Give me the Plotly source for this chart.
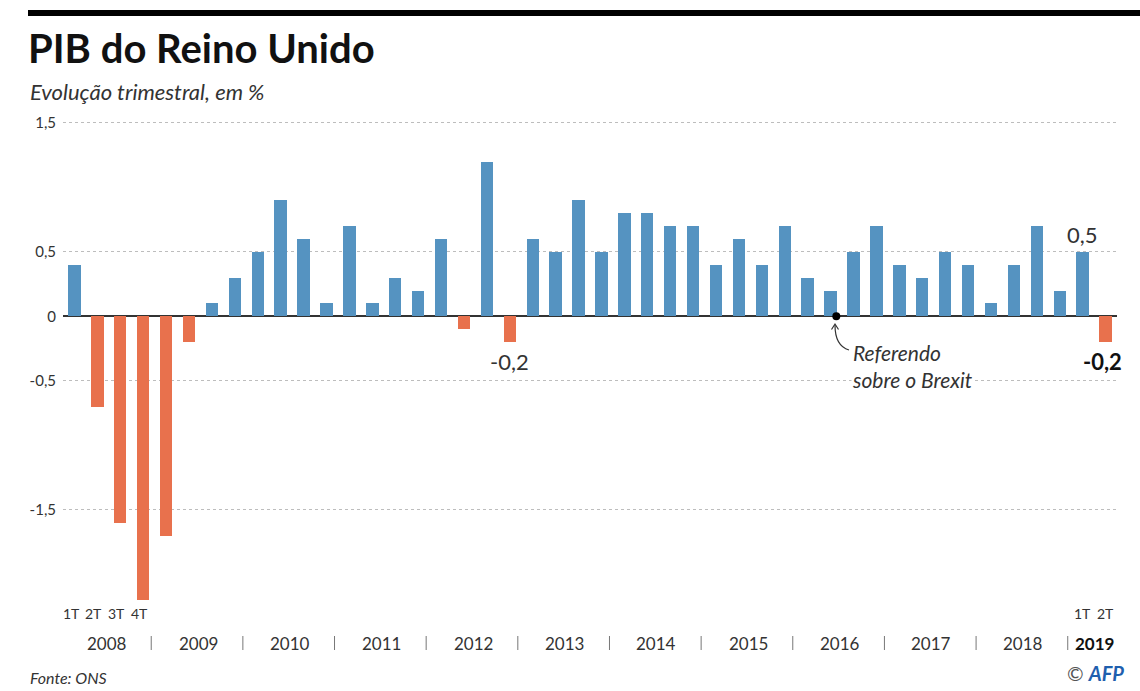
import plotly.graph_objects as go

# ---- data ----
years = ["2008", "2009", "2010", "2011", "2012", "2013", "2014", "2015",
         "2016", "2017", "2018", "2019"]
quarters_per_year = [4, 4, 4, 4, 4, 4, 4, 4, 4, 4, 4, 2]
gdp_growth = [
    0.4, -0.7, -1.6, -2.2,   # 2008
    -1.7, -0.2, 0.1, 0.3,    # 2009
    0.5, 0.9, 0.6, 0.1,      # 2010
    0.7, 0.1, 0.3, 0.2,      # 2011
    0.6, -0.1, 1.2, -0.2,    # 2012
    0.6, 0.5, 0.9, 0.5,      # 2013
    0.8, 0.8, 0.7, 0.7,      # 2014
    0.4, 0.6, 0.4, 0.7,      # 2015
    0.3, 0.2, 0.5, 0.7,      # 2016
    0.4, 0.3, 0.5, 0.4,      # 2017
    0.1, 0.4, 0.7, 0.2,      # 2018
    0.5, -0.2,               # 2019
]
ytick_vals = [1.5, 0.5, 0, -0.5, -1.5]
ytick_text = ["1,5", "0,5", "0", "-0,5", "-1,5"]
quarter_labels_first = ["1T", "2T", "3T", "4T"]
quarter_labels_last = ["1T", "2T"]
brexit_quarter = 33.25  # referendum, late Q2 2016 (index)

# ---- styles ----
BLUE = "#5593c1"
ORANGE = "#e8714d"
TXT = "#333333"
FONT = "Lato"

W, H = 1140, 691
L, R, T, B = 63, 1117, 110, 613


def px(x):
    return (x - L) / (R - L)


def py(y):
    return (B - y) / (B - T)


n = len(gdp_growth)
xs = list(range(n))
colors = [BLUE if v >= 0 else ORANGE for v in gdp_growth]

fig = go.Figure()
fig.add_trace(go.Bar(x=xs, y=gdp_growth, marker=dict(color=colors, line=dict(width=0)),
                     width=0.54, hoverinfo="skip"))
fig.add_trace(go.Scatter(x=[brexit_quarter], y=[0], mode="markers",
                         marker=dict(color="black", size=8), hoverinfo="skip"))

ann = []
# title & subtitle
ann.append(dict(text="<b>PIB do Reino Unido</b>", x=px(26), y=py(48), xref="paper", yref="paper",
                xanchor="left", yanchor="middle", showarrow=False,
                font=dict(family=FONT, size=40, color="#111111")))
ann.append(dict(text="<i>Evolução trimestral, em %</i>", x=px(28), y=py(91), xref="paper", yref="paper",
                xanchor="left", yanchor="middle", showarrow=False,
                font=dict(family=FONT, size=22, color=TXT)))

# value labels
ann.append(dict(text="-0,2", x=19, y=py(361), xref="x", yref="paper", showarrow=False,
                xanchor="center", yanchor="middle", font=dict(family=FONT, size=22, color=TXT)))
ann.append(dict(text="0,5", x=n - 2, y=py(234), xref="x", yref="paper", showarrow=False,
                xanchor="center", yanchor="middle", font=dict(family=FONT, size=22, color=TXT)))
ann.append(dict(text="<b>-0,2</b>", x=n - 1 - 0.15, y=py(361), xref="x", yref="paper", showarrow=False,
                xanchor="center", yanchor="middle", font=dict(family=FONT, size=22, color="#111111")))

# Brexit label
ann.append(dict(text="<i>Referendo<br>sobre o Brexit</i>", x=px(851), y=py(366), xref="paper", yref="paper",
                xanchor="left", yanchor="middle", showarrow=False, align="left", bgcolor="white",
                borderpad=0, font=dict(family=FONT, size=21, color=TXT)))

# quarter labels
for i, q in enumerate(quarter_labels_first):
    ann.append(dict(text=q, x=i - 0.15, y=py(613), xref="x", yref="paper", showarrow=False,
                    xanchor="center", yanchor="middle", font=dict(family=FONT, size=14, color=TXT)))
for i, q in enumerate(quarter_labels_last):
    ann.append(dict(text=q, x=n - len(quarter_labels_last) + i, y=py(613), xref="x", yref="paper",
                    showarrow=False, xanchor="center", yanchor="middle",
                    font=dict(family=FONT, size=14, color=TXT)))

# year labels & separators
shapes = []
start = 0
for yr, nq in zip(years, quarters_per_year):
    centre = start + (nq - 1) / 2
    label = f"<b>{yr}</b>" if yr == years[-1] else yr
    ann.append(dict(text=label, x=centre - (0.1 if nq == 4 else 0), y=py(643), xref="x", yref="paper",
                    showarrow=False, xanchor="center", yanchor="middle",
                    font=dict(family=FONT, size=17, color="#111111" if yr == years[-1] else TXT)))
    shapes.append(dict(type="line", xref="x", yref="paper", x0=start - 0.65, x1=start - 0.65,
                       y0=py(636), y1=py(650), line=dict(color="#777777", width=1)))
    start += nq

# footer
ann.append(dict(text="<i>Fonte: ONS</i>", x=px(28), y=py(677), xref="paper", yref="paper",
                xanchor="left", yanchor="middle", showarrow=False,
                font=dict(family=FONT, size=16, color=TXT)))
ann.append(dict(text="© <b><i><span style='color:#1f5fae'>AFP</span></i></b>", x=px(1126), y=py(673),
                xref="paper", yref="paper", xanchor="right", yanchor="middle", showarrow=False,
                font=dict(family=FONT, size=20, color="#555555")))

# top black rule
shapes.append(dict(type="rect", xref="paper", yref="paper", x0=px(28), x1=px(1140),
                   y0=py(16), y1=py(10), fillcolor="black", line=dict(width=0)))
# Brexit arrow (curved)
shapes.append(dict(type="path", xref="paper", yref="paper",
                   path=f"M {px(849)},{py(350)} Q {px(835)},{py(346)} {px(835)},{py(325)}",
                   line=dict(color="#333333", width=1.2)))
shapes.append(dict(type="path", xref="paper", yref="paper",
                   path=f"M {px(831.5)},{py(329.5)} L {px(835)},{py(324)} L {px(838.5)},{py(329.5)}",
                   line=dict(color="#333333", width=1.2)))

fig.update_layout(
    width=W, height=H,
    margin=dict(l=L, r=W - R, t=T, b=H - B, pad=0),
    paper_bgcolor="white", plot_bgcolor="white",
    showlegend=False, bargap=0,
    annotations=ann, shapes=shapes,
    font=dict(family=FONT, color=TXT),
    xaxis=dict(range=[-0.5, n - 0.5], showticklabels=False, showgrid=False,
               zeroline=False, showline=False, ticks="", fixedrange=True),
    yaxis=dict(range=[-2.3, 1.6], tickvals=ytick_vals, ticktext=ytick_text,
               showgrid=True, gridcolor="#bdbdbd", griddash="dot", gridwidth=1,
               zeroline=True, zerolinecolor="#333333", zerolinewidth=1.5,
               showline=False, ticks="", ticklabelstandoff=6,
               tickfont=dict(family=FONT, size=15, color=TXT), fixedrange=True),
)

fig.write_html("out.html")
